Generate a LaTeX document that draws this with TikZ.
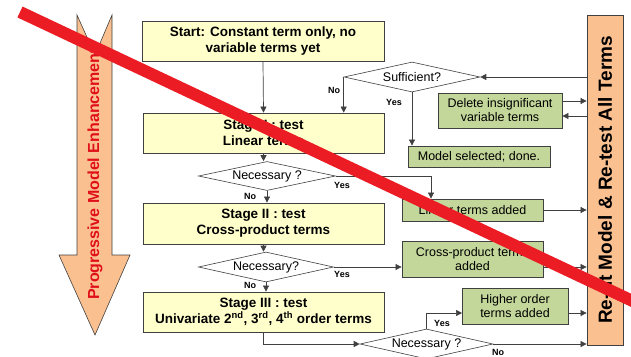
\documentclass[tikz,border=0pt]{standalone}
\usepackage{fontspec}
\setmainfont{Liberation Sans}
\usetikzlibrary{shapes.geometric,arrows.meta}
\definecolor{boxyellow}{HTML}{FFFFCC}
\definecolor{boxgreen}{HTML}{C4D79B}
\definecolor{peach}{HTML}{FAC090}
\definecolor{edgegray}{HTML}{404040}
\definecolor{crossred}{HTML}{EC1C24}
\definecolor{textred}{HTML}{E0101A}
\begin{document}
\begin{tikzpicture}[x=1pt,y=-1pt,
  yellowbox/.style={draw=edgegray, line width=0.8pt, fill=boxyellow, inner sep=0pt, align=center, font=\fontsize{13.5}{16}\selectfont\bfseries},
  greenbox/.style={draw=edgegray, line width=0.8pt, fill=boxgreen, inner sep=0pt, align=center, font=\fontsize{12.5}{14}\selectfont},
  decision/.style={diamond, draw=edgegray, line width=0.6pt, fill=white, inner sep=0pt, aspect=4, font=\fontsize{12.5}{14}\selectfont},
  flow/.style={draw=edgegray, line width=0.7pt, -{Triangle[length=6pt,width=6pt]}},
  plain/.style={draw=edgegray, line width=0.7pt},
  yn/.style={font=\fontsize{9}{10}\selectfont\bfseries, inner sep=0pt}]
\useasboundingbox (0,0) rectangle (631,356);
\clip (0,0) rectangle (631,356);
\fill[white] (0,0) rectangle (631,356);

% left progressive arrow
\draw[draw=edgegray, fill=peach, line width=0.6pt]
  (77,15) -- (95,55) -- (112,15) -- (112,255) -- (130,255) -- (95,335) -- (59,255) -- (77,255) -- cycle;
\node[rotate=90, font=\fontsize{16}{18}\selectfont\bfseries, text=textred] (prog) at (95,174) {Progressive Model Enhancement};

% right re-fit box
\node[draw=edgegray, line width=0.8pt, fill=peach, minimum width=36, minimum height=330, inner sep=0pt] (refit) at (605,180) {};
\node[rotate=90, font=\fontsize{19}{21}\selectfont\bfseries] (refittext) at (605,180) {Re-fit Model \& Re-test All Terms};

% yellow stage boxes
\node[yellowbox, minimum width=242, minimum height=40] (start) at (263,41) {Start: Constant term only, no\\variable terms yet};
\node[yellowbox, minimum width=241, minimum height=40] (stageI) at (263.5,133) {Stage I : test\\Linear terms};
\node[yellowbox, minimum width=241, minimum height=41] (stageII) at (263.5,223.5) {Stage II : test\\Cross-product terms};
\node[yellowbox, minimum width=241, minimum height=40] (stageIII) at (263.5,312) {Stage III : test\\Univariate 2\textsuperscript{nd}, 3\textsuperscript{rd}, 4\textsuperscript{th} order terms};

% decisions
\node[decision, minimum width=136, minimum height=30] (suff) at (412,77) {Sufficient?};
\node[decision, minimum width=137, minimum height=29] (nec1) at (267,176) {Necessary ?};
\node[decision, minimum width=135, minimum height=30] (nec2) at (266,267) {Necessary?};
\node[decision, minimum width=133, minimum height=30] (nec3) at (426.5,344) {Necessary ?};

% green boxes
\node[greenbox, minimum width=124, minimum height=35] (del) at (500,110.5) {Delete insignificant\\variable terms};
\node[greenbox, minimum width=142, minimum height=21] (model) at (479,156.5) {Model selected; done.};
\node[greenbox, minimum width=141, minimum height=22] (linear) at (472.5,210) {Linear terms added};
\node[greenbox, minimum width=141, minimum height=36] (cross) at (472.5,259) {Cross-product terms\\added};
\node[greenbox, minimum width=106, minimum height=36] (higher) at (515,306) {Higher order\\terms added};

% helper coordinates
\coordinate (j1) at (431,176);
\coordinate (hy) at (462,313);

% connectors
\draw[flow] (start.south) -- (stageI.north);
\draw[flow] (refit.west |- suff.east) -- (suff.east);
\draw[flow] (suff.west) -- (suff.west |- stageI.north);
\draw[flow] (suff.south) -- (suff.south |- model.north);
\draw[flow] (del.east |- 0,101) -- (refit.west |- 0,101);
\draw[flow] (refit.west |- 0,116) -- (del.east |- 0,116);

\draw[flow] (stageI.south) -- (stageI.south |- nec1.north);
\draw[flow] (nec1.south) -- (nec1.south |- stageII.north);
\draw[flow] (nec1.east) -- (j1) -- (j1 |- linear.north);
\draw[flow] (linear.east) -- (refit.west |- linear.east);

\draw[flow] (stageII.south) -- (stageII.south |- nec2.north);
\draw[flow] (nec2.south) -- (nec2.south |- stageIII.north);
\draw[flow] (nec2.east) -- (cross.west |- nec2.east);
\draw[flow] (cross.east |- nec2.east) -- (refit.west |- nec2.east);

\draw[flow] (stageIII.south) |- (nec3.west);
\draw[flow] (nec3.north) |- (hy);
\draw[flow] (higher.east |- hy) -- (refit.west |- hy);
\draw[flow] (nec3.east) -- (refit.west |- nec3.east);

% yes / no labels
\node[yn] (l1) at (334,90) {No};
\node[yn] (l2) at (394,102) {Yes};
\node[yn] (l3) at (342,185) {Yes};
\node[yn] (l4) at (250,196) {No};
\node[yn] (l5) at (342,274) {Yes};
\node[yn] (l6) at (250,285) {No};
\node[yn] (l7) at (442,323) {Yes};
\node[yn] (l8) at (498,352) {No};

% red cross-out line
\draw[crossred, line width=12pt] (20,12) -- (640,304.5);
\end{tikzpicture}
\end{document}
